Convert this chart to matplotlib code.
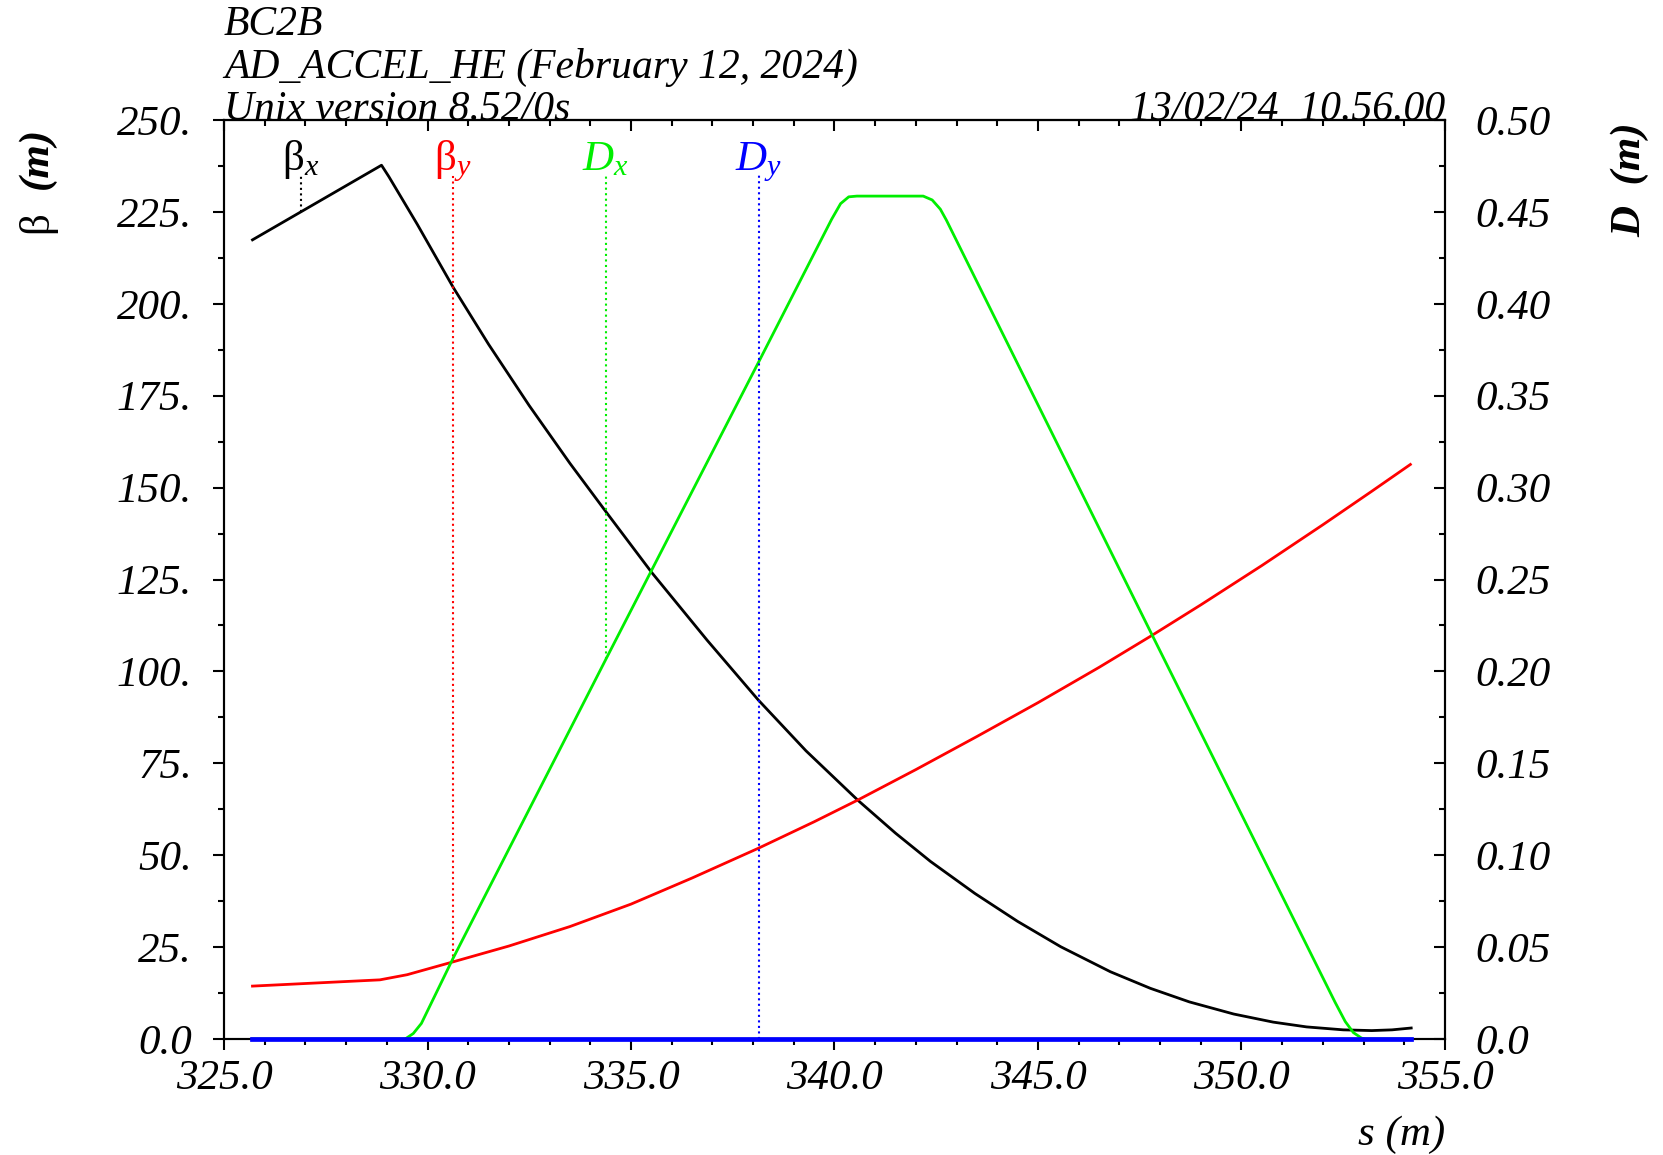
import numpy as np
import matplotlib
matplotlib.use("Agg")
import matplotlib.pyplot as plt
from matplotlib.ticker import MultipleLocator, FuncFormatter

plt.rcParams['font.family'] = ['Liberation Serif', 'DejaVu Serif']
plt.rcParams['font.style'] = 'italic'
plt.rcParams['mathtext.fontset'] = 'custom'
plt.rcParams['mathtext.it'] = 'Liberation Serif:italic'
plt.rcParams['mathtext.rm'] = 'Liberation Serif'

# beta_x (m) vs s (m)
s_betx = [325.70, 328.87, 329.05, 329.75, 330.63, 331.50, 332.50, 333.50,
          334.38, 335.51, 336.87, 338.13, 339.30, 340.58, 341.50, 342.36,
          343.45, 344.50, 345.56, 346.78, 347.76, 348.72, 349.81, 350.78,
          351.60, 352.50, 353.20, 353.70, 354.17]
betx = [217.4, 237.7, 234.6, 221.6, 204.5, 189.0, 172.3, 156.6,
        143.5, 126.9, 108.5, 92.2, 78.4, 64.9, 56.0, 48.3,
        39.6, 32.0, 25.1, 18.3, 13.8, 10.1, 6.8, 4.6,
        3.3, 2.5, 2.3, 2.5, 3.0]

# beta_y (m) vs s (m)
s_bety = [325.70, 328.83, 329.50, 330.63, 332.00, 333.50, 335.00, 336.50,
          338.13, 339.50, 340.57, 342.00, 343.50, 345.00, 346.50, 347.80,
          349.00, 350.50, 352.00, 353.20, 354.15]
bety = [14.4, 16.1, 17.5, 21.0, 25.3, 30.6, 36.7, 43.8,
        51.9, 59.1, 65.0, 73.3, 82.3, 91.5, 101.1, 109.8,
        118.1, 128.8, 139.9, 149.0, 156.3]

# D_x (m) vs s (m)
s_dx = [325.70, 329.45, 329.65, 329.85, 330.63, 334.38, 338.14, 339.93,
        340.15, 340.35, 340.55, 342.18, 342.40, 342.60, 342.75, 347.80,
        352.30, 352.55, 352.75, 352.95, 353.05, 354.17]
dx = [0.0, 0.0, 0.003, 0.0085, 0.044, 0.2065, 0.3685, 0.446,
      0.4545, 0.4582, 0.4586, 0.4586, 0.4565, 0.4515, 0.4455, 0.220,
      0.020, 0.0095, 0.0035, 0.0005, 0.0, 0.0]

# D_y (m) vs s (m)
s_dy = [325.70, 354.17]
dy = [0.0, 0.0]

# curve labels along the top
lab_s = [326.88, 330.63, 334.38, 338.14]
lab_txt = [r'β$_{\mathit{x}}$', r'β$_{\mathit{y}}$', r'D$_{\mathit{x}}$', r'D$_{\mathit{y}}$']
lab_style = ['normal', 'normal', 'italic', 'italic']
lab_col = ['black', 'red', '#00ee00', 'blue']

fs = 31
fig = plt.figure(figsize=(16.63, 11.55), dpi=100)
ax = fig.add_axes([0.1347, 0.1004, 0.7342, 0.7957])
ax2 = ax.twinx()

ax.plot(s_betx, betx, color='black', lw=2.0)
ax.plot(s_bety, bety, color='red', lw=2.0)
ax2.plot(s_dx, dx, color='#00ee00', lw=2.0)
ax2.plot(s_dy, dy, color='blue', lw=3.4, clip_on=False, zorder=5)

ax.set_xlim(325, 355)
ax.set_ylim(0, 250)
ax2.set_ylim(0, 0.5)

# labels with dotted drop lines down to each curve
vals = [np.interp(lab_s[0], s_betx, betx), np.interp(lab_s[1], s_bety, bety),
        np.interp(lab_s[2], s_dx, dx), np.interp(lab_s[3], s_dy, dy)]
for i in range(4):
    ax.text(lab_s[i], 236.3, lab_txt[i], color=lab_col[i], fontsize=fs,
            fontstyle=lab_style[i], ha='center', va='baseline')
    if i < 2:
        ax.plot([lab_s[i], lab_s[i]], [vals[i], 235.0], ls=':', color=lab_col[i], lw=1.5)
    else:
        ax2.plot([lab_s[i], lab_s[i]], [vals[i], 0.470], ls=':', color=lab_col[i], lw=1.5)

# ticks
ax.xaxis.set_major_locator(MultipleLocator(5))
ax.xaxis.set_minor_locator(MultipleLocator(1))
ax.xaxis.set_major_formatter(FuncFormatter(lambda v, p: '%.1f' % v))
ax.yaxis.set_major_locator(MultipleLocator(25))
ax.yaxis.set_minor_locator(MultipleLocator(12.5))
ax.yaxis.set_major_formatter(FuncFormatter(lambda v, p: '0.0' if abs(v) < 1e-9 else '%d.' % round(v)))
ax2.yaxis.set_major_locator(MultipleLocator(0.05))
ax2.yaxis.set_minor_locator(MultipleLocator(0.025))
ax2.yaxis.set_major_formatter(FuncFormatter(lambda v, p: '0.0' if abs(v) < 1e-9 else '%.2f' % v))

ax.tick_params(axis='x', which='major', direction='out', length=8, width=1.5, pad=7, labelsize=fs)
ax.tick_params(axis='x', which='minor', direction='out', length=4.5, width=1.5)
ax.tick_params(axis='y', which='major', direction='out', length=8, width=1.5, pad=15, labelsize=fs)
ax.tick_params(axis='y', which='minor', direction='out', length=4.5, width=1.5)
ax2.tick_params(axis='y', which='major', direction='in', length=8, width=1.5, pad=22, labelsize=fs)
ax2.tick_params(axis='y', which='minor', direction='in', length=4.5, width=1.5)

top = ax.secondary_xaxis('top')
top.xaxis.set_major_locator(MultipleLocator(5))
top.xaxis.set_minor_locator(MultipleLocator(1))
top.tick_params(which='major', direction='in', length=8, width=1.5, labeltop=False)
top.tick_params(which='minor', direction='in', length=4.5, width=1.5)
top.spines['top'].set_linewidth(1.5)

for a in (ax, ax2):
    for sp in a.spines.values():
        sp.set_linewidth(1.5)

# header text
hfs = 30
fig.text(0.1347, 1 - 35 / 1155, 'BC2B', fontsize=hfs, va='baseline', ha='left')
fig.text(0.1347, 1 - 77.5 / 1155, 'AD_ACCEL_HE (February 12, 2024)', fontsize=hfs, va='baseline', ha='left')
fig.text(0.1347, 1 - 120 / 1155, 'Unix version 8.52/0s', fontsize=hfs, va='baseline', ha='left')
fig.text(0.8689, 1 - 120 / 1155, '13/02/24  10.56.00', fontsize=hfs, va='baseline', ha='right')

# axis titles
fig.text(37 / 1663, 1 - 222 / 1155, 'β', fontsize=fs, fontstyle='normal',
         rotation=90, ha='center', va='center')
fig.text(37 / 1663, 1 - 158 / 1155, '(m)', fontsize=fs, fontweight='bold',
         rotation=90, ha='center', va='center')
fig.text(1630 / 1663, 1 - 180 / 1155, 'D  (m)', fontsize=fs, fontweight='bold',
         rotation=90, ha='center', va='center')
fig.text(0.8689, 1 - 1145 / 1155, 's (m)', fontsize=fs, ha='right', va='baseline')

fig.savefig('out.png', dpi=100)
